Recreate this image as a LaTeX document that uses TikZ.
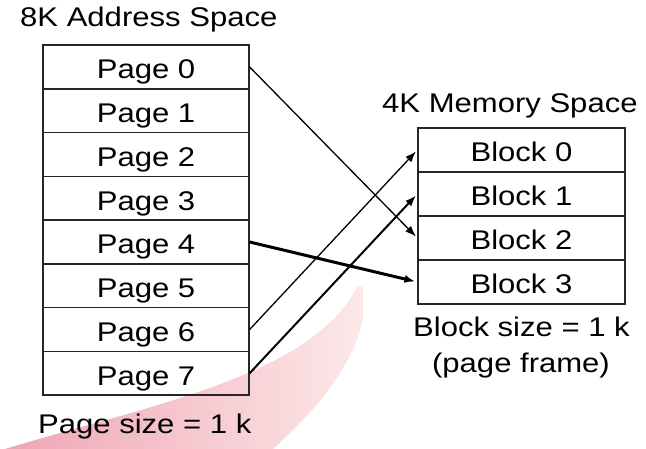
\documentclass[tikz,border=0pt]{standalone}
\usepackage{fontspec}
\setmainfont{Liberation Sans}[FakeStretch=1.15]
\usetikzlibrary{arrows.meta}
\definecolor{swooshA}{RGB}{238,165,180}
\definecolor{swooshB}{RGB}{253,232,232}
\begin{document}
\begin{tikzpicture}[x=1pt,y=-1pt,
  font=\fontsize{27}{32}\selectfont,
  cell/.style={draw=black!85,line width=1.3pt,minimum width=206pt,minimum height=43.75pt,
    inner sep=0pt,text height=24pt,text depth=0pt,anchor=center},
  bcell/.style={cell,minimum width=207pt,minimum height=44pt},
  lbl/.style={inner sep=0pt,anchor=base west},
  link/.style={-{Latex[length=11pt,width=8pt]},shorten >=2pt,line width=1.3pt}]
\useasboundingbox (0,0) rectangle (646,449);
\shade[left color=swooshA,right color=swooshB]
  (5,449) .. controls (150,405) and (315,375) .. (358,285) -- (363,288) -- (363,320)
  .. controls (350,375) and (305,420) .. (273,449) -- cycle;
\foreach \i in {0,...,7}{
  \node[cell] (p\i) at (146,{67+43.75*\i}) {Page \i};
}
\foreach \i in {0,...,3}{
  \node[bcell] (b\i) at (521.5,{150+44*\i}) {Block \i};
}
\node[lbl] (t1) at (20,27) {8K Address Space};
\node[lbl] (t2) at (382,113) {4K Memory Space};
\node[lbl] (t3) at (38,433) {Page size = 1 k};
\node[lbl] (t4) at (413,337) {Block size = 1 k};
\node[inner sep=0pt,anchor=base] (t5) at (521,373) {(page frame)};
\draw[link] (p0.east) -- (b2.west);
\draw[link] (p6.east) -- (b0.west);
\draw[link,line width=2pt] (p7.east) -- (b1.west);
\draw[link,line width=3pt] (p4.east) -- (b3.west);
\end{tikzpicture}
\end{document}
